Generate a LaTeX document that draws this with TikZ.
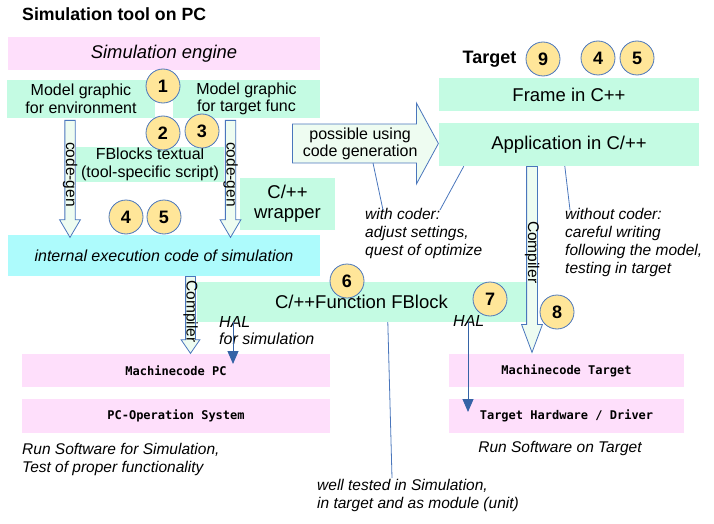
\documentclass[tikz,border=0pt]{standalone}
\usepackage{fontspec}
\setmainfont{Liberation Sans}
\setmonofont{DejaVu Sans Mono}
\usepackage{tikz}
\usetikzlibrary{shapes.arrows,arrows.meta,calc}
\definecolor{pinkbox}{HTML}{FEDFFB}
\definecolor{mintbox}{HTML}{C4FBE3}
\definecolor{cyanbox}{HTML}{ADFBFC}
\definecolor{badgefill}{HTML}{FFE699}
\definecolor{lineblue}{HTML}{4A76BC}
\definecolor{halblue}{HTML}{3563A6}
\definecolor{arrowfill}{HTML}{EEFCF1}

\begin{document}
\begin{tikzpicture}[x=1pt, y=-1pt,
    box/.style={inner sep=0pt, align=center, font=\fontsize{16}{17.5}\selectfont},
    pinkb/.style={box, fill=pinkbox},
    mintb/.style={box, fill=mintbox},
    cyanb/.style={box, fill=cyanbox},
    big/.style={font=\fontsize{18.5}{20}\selectfont},
    codebox/.style={pinkb, font=\fontsize{12}{14}\selectfont\ttfamily\bfseries},
    badge/.style={circle, draw=lineblue, line width=0.8pt, fill=badgefill,
        minimum size=34, inner sep=0pt, font=\fontsize{18}{20}\selectfont\bfseries},
    note/.style={align=left, inner sep=0pt, font=\fontsize{15.5}{18}\selectfont\itshape},
    blockarrow/.style={single arrow, draw=lineblue, fill=arrowfill, line width=0.8pt,
        inner xsep=0pt, inner ysep=0pt, single arrow head indent=0pt,
        font=\fontsize{15.5}{18}\selectfont},
    callout/.style={draw=lineblue, line width=0.8pt},
    hal/.style={draw=halblue, line width=1pt, -{Triangle[length=13pt,width=11pt]}}]
\useasboundingbox (0,0) rectangle (714,524);

% simulation side
\node[anchor=west, inner sep=0pt, font=\fontsize{17.7}{20}\selectfont\bfseries] (title) at (22,14) {Simulation tool on PC};
\node[pinkb, minimum width=312, minimum height=33, font=\fontsize{18.4}{20}\selectfont\itshape] (simeng) at (164,53.5) {Simulation engine};
\node[mintb, minimum width=148, minimum height=38] (modenv) at (81,99) {Model graphic\\for environment};
\node[mintb, minimum width=147, minimum height=38] (modtgt) at (246.5,99) {Model graphic\\for target func};
\node[mintb, minimum width=148, minimum height=35] (fbtext) at (150,164.5) {FBlocks textual\\(tool-specific script)};
\node[mintb, big, minimum width=95, minimum height=52] (wrapper) at (287.5,204) {C/++\\wrapper};
\node[cyanb, minimum width=312, minimum height=41, font=\fontsize{16}{18}\selectfont\itshape] (execcode) at (164,255.5) {internal execution code of simulation};
\node[mintb, big, minimum width=329, minimum height=40] (fblock) at (361.5,302) {C/++Function FBlock};
\node[codebox, minimum width=308, minimum height=33] (mcpc) at (176,370.5) {Machinecode PC};
\node[codebox, minimum width=308, minimum height=34] (pcos) at (176,416) {PC-Operation System};

% target side
\node[inner sep=0pt, font=\fontsize{18}{20}\selectfont\bfseries] (target) at (489.5,59) {Target};
\node[mintb, big, minimum width=260, minimum height=33] (frame) at (569,94.5) {Frame in C++};
\node[mintb, big, minimum width=260, minimum height=43] (appl) at (569,144.5) {Application in C/++};
\node[codebox, minimum width=235, minimum height=33] (mctgt) at (566.5,370.5) {Machinecode Target};
\node[codebox, minimum width=235, minimum height=34] (tgthw) at (566.5,416) {Target Hardware / Driver};

% block arrows
\node[blockarrow, rotate=-90, anchor=tail, minimum height=117, minimum width=20,
    text height=8.75pt, text depth=0.75pt, single arrow head extend=5.25pt,
    single arrow tip angle=61] (cgenL) at (70,120) {code-gen};
\node[blockarrow, rotate=-90, anchor=tail, minimum height=117, minimum width=20,
    text height=8.75pt, text depth=0.75pt, single arrow head extend=5.25pt,
    single arrow tip angle=61] (cgenR) at (230.5,120) {code-gen};
\node[blockarrow, rotate=-90, anchor=tail, minimum height=77, minimum width=18,
    text height=8.5pt, text depth=0.5pt, single arrow head extend=4.5pt,
    single arrow tip angle=69] (compL) at (190.5,276) {Compiler};
\node[blockarrow, rotate=-90, anchor=tail, minimum height=186, minimum width=20,
    text height=9pt, text depth=1pt, single arrow head extend=5pt,
    single arrow tip angle=41] (compR) at (532,166) {Compiler};
\node[blockarrow, anchor=tail, minimum height=146, minimum width=81, inner ysep=3pt,
    single arrow head extend=21pt, single arrow tip angle=123, align=center,
    font=\fontsize{16}{17}\selectfont] (gen) at (292,143.5) {possible using\\code generation};

% notes
\node[note, anchor=west] (withcoder) at (365,233) {with coder:\\adjust settings,\\quest of optimize};
\node[note, anchor=west] (withoutcoder) at (565,242) {without coder:\\careful writing\\following the model,\\testing in target};
\node[note, anchor=west] (runpc) at (22,459) {Run Software for Simulation,\\Test of proper functionality};
\node[note] (runtgt) at (560,448) {Run Software on Target};
\node[note, anchor=west] (welltested) at (317,495) {well tested in Simulation,\\in target and as module (unit)};
\node[note, anchor=west, font=\fontsize{16}{17}\selectfont\itshape] (halL) at (219,330.5) {HAL\\for simulation};
\node[note, anchor=west, font=\fontsize{16}{17}\selectfont\itshape] (halR) at (453,321) {HAL};

% connectors
\coordinate (wcend) at (383,210);
\coordinate (wcend2) at (440,210);
\coordinate (wocend) at (570,210);
\coordinate (wtend) at (392,478);
\coordinate (halLtip) at (233,364);
\coordinate (halRtip) at (468,412);
\draw[callout] ($(gen.tail)+(81,19.5)$) -- (wcend);
\draw[callout] ($(appl.south west)+(25,0)$) -- (wcend2);
\draw[callout] ($(appl.south west)+(126,0)$) -- (wocend);
\draw[callout] ($(fblock.south west)+(191,0)$) -- (wtend);
\draw[hal] (fblock.south -| halLtip) -- (halLtip);
\draw[hal] (fblock.south -| halRtip) -- (halRtip);

% numbers
\node[badge] (n1) at (163,86) {1};
\node[badge] (n2) at (163,133) {2};
\node[badge] (n3) at (202,131) {3};
\node[badge] (n4) at (126,217) {4};
\node[badge] (n5) at (164,217) {5};
\node[badge] (n6) at (347,281) {6};
\node[badge] (n7) at (490,299) {7};
\node[badge] (n8) at (557,312) {8};
\node[badge] (n9) at (543,59) {9};
\node[badge] (n4t) at (598,58) {4};
\node[badge] (n5t) at (637,58) {5};
\end{tikzpicture}
\end{document}
